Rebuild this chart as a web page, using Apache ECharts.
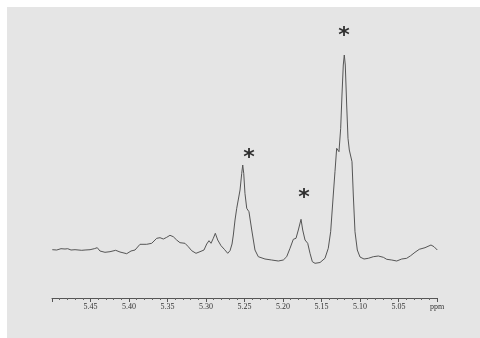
<!DOCTYPE html>
<html>
<head>
<meta charset="utf-8">
<script src="https://cdn.jsdelivr.net/npm/echarts@6/dist/echarts.min.js"></script>
<style>
    html, body { margin: 0; padding: 0; background: #ffffff; }
    #spectrum { position: absolute; left: 7px; top: 7px; width: 473px; height: 331px; background: #e5e5e5; }
</style>
</head>
<body>
<div id="spectrum"></div>
<script>
// chemical shift (ppm)
var ppm = [5.4996, 5.4939, 5.4883, 5.4831, 5.4796, 5.4753, 5.4701, 5.4614, 5.4571, 5.4506,
    5.4451, 5.4412, 5.4377, 5.4312, 5.4247, 5.4173, 5.4117, 5.4030, 5.3974, 5.3922,
    5.3857, 5.3770, 5.3705, 5.3640, 5.3597, 5.3554, 5.3510, 5.3468, 5.3425, 5.3381,
    5.3338, 5.3273, 5.3230, 5.3186, 5.3130, 5.3078, 5.3026, 5.2991, 5.2961, 5.2935,
    5.2905, 5.2879, 5.2848, 5.2805, 5.2762, 5.2718, 5.2688, 5.2662, 5.2645, 5.2623,
    5.2601, 5.2581, 5.2558, 5.2536, 5.2523, 5.2510, 5.2494, 5.2471, 5.2442, 5.2406,
    5.2364, 5.2321, 5.2234, 5.2147, 5.2061, 5.1996, 5.1952, 5.1909, 5.1866, 5.1831,
    5.1801, 5.1766, 5.1744, 5.1714, 5.1679, 5.1649, 5.1619, 5.1584, 5.1519, 5.1455,
    5.1412, 5.1381, 5.1347, 5.1325, 5.1303, 5.1290, 5.1273, 5.1251, 5.1234, 5.1217,
    5.1204, 5.1191, 5.1173, 5.1156, 5.1139, 5.1121, 5.1104, 5.1087, 5.1065, 5.1035,
    5.1000, 5.0948, 5.0892, 5.0827, 5.0762, 5.0697, 5.0653, 5.0588, 5.0523, 5.0458,
    5.0394, 5.0342, 5.0286, 5.0230, 5.0156, 5.0078, 5.0039, 4.9996];
// intensity (arbitrary units)
var intensity = [48.3, 48, 49.3, 49, 49.3, 48, 48.3, 47.7, 48, 48.3,
    49.3, 50.3, 47, 45.7, 46.3, 47.7, 46, 44.3, 47, 48,
    53.7, 53.7, 54.7, 59.7, 60.3, 59, 60.7, 62.7, 61.3, 58,
    55.3, 54.7, 51.3, 47.3, 44.7, 46.3, 48, 54, 57.3, 54.7,
    59.7, 64.7, 58, 52.3, 48.7, 44.7, 47.3, 54, 63, 78,
    89.7, 91.3, 108, 124.7, 133, 124.7, 104.7, 89.7, 86.3, 68,
    48, 41.3, 39, 38, 37, 38, 41.3, 49.7, 58.7, 59.7,
    68, 78.7, 68, 58, 54.7, 44.7, 36.3, 34.7, 35.5, 39.7,
    49.7, 66.3, 103, 126.3, 149.7, 151.3, 146.3, 169.7, 203, 233,
    243, 233, 193, 159.7, 148, 149, 136.3, 103, 66.3, 48,
    41, 39, 39.7, 41.3, 42, 40.7, 38.7, 38, 37, 39,
    39.7, 42.3, 45.7, 48.7, 50.3, 53, 51.3, 48];
// asterisks marking the assigned signals
var starPpm = [5.2442, 5.1727, 5.1208];
var starHeight = [140, 100, 262];

var traceData = ppm.map(function(p, i) { return [p, intensity[i]]; });
var starData = starPpm.map(function(p, i) { return [p, starHeight[i]]; });

var chart = echarts.init(document.getElementById('spectrum'));
var option = {
    animation: false,
    backgroundColor: '#e5e5e5',
    grid: { left: 45, right: 43, top: 11, bottom: 40 },
    xAxis: {
        type: 'value',
        inverse: true,
        min: 5.0,
        max: 5.5,
        interval: 0.05,
        axisLine: { show: true, lineStyle: { color: '#555', width: 1 } },
        axisTick: { show: true, length: 4, lineStyle: { color: '#555' } },
        minorTick: { show: true, splitNumber: 5, length: 2, lineStyle: { color: '#666' } },
        splitLine: { show: false },
        axisLabel: {
            margin: 5,
            color: '#333',
            fontFamily: 'Liberation Serif',
            fontSize: 8,
            showMinLabel: true,
            showMaxLabel: true,
            formatter: function(v) {
                if (Math.abs(v - 5.5) < 1e-6) return '';
                if (Math.abs(v - 5.0) < 1e-6) return 'ppm';
                return v.toFixed(2);
            }
        }
    },
    yAxis: { type: 'value', min: 0, max: 280, show: false },
    series: [
        {
            type: 'line',
            data: traceData,
            showSymbol: false,
            lineStyle: { color: '#555', width: 1 },
            silent: true
        },
        {
            type: 'scatter',
            data: starData,
            symbolSize: 0,
            label: {
                show: true,
                position: 'inside',
                formatter: '*',
                color: '#000',
                fontFamily: 'DejaVu Sans',
                fontWeight: 'bold',
                fontSize: 22
            }
        }
    ]
};
chart.setOption(option);
</script>
</body>
</html>
